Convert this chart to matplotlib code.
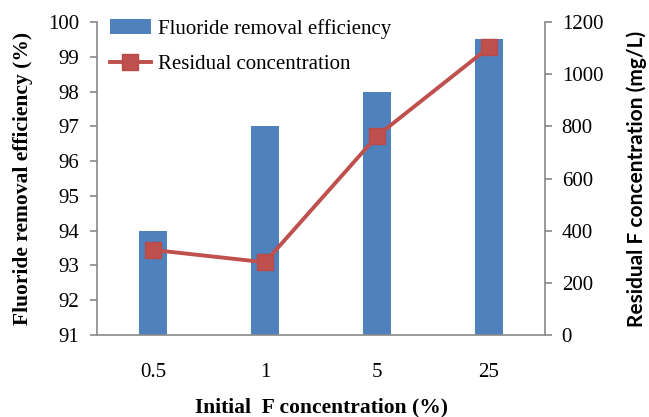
import matplotlib
matplotlib.use("Agg")
import matplotlib.pyplot as plt

categories = ["0.5", "1", "5", "25"]
efficiency = [94, 97, 98, 99.5]
residual = [326, 279, 763, 1103]

serif = "Liberation Serif"
gray = "#898989"

fig = plt.figure(figsize=(6.49, 4.17), dpi=100)
ax = fig.add_axes([0.1495, 0.1966, 0.6903, 0.7506])
x = list(range(len(categories)))
bars = ax.bar(x, [e - 91 for e in efficiency], bottom=91, width=0.25, color="#4F81BD",
              label="Fluoride removal efficiency", zorder=2)
ax.set_xlim(-0.5, 3.5)
ax.set_ylim(91, 100)
ax.set_yticks(range(91, 101))
ax.set_xticks(x)
ax.set_xticklabels(categories)
for s in ["top", "right"]:
    ax.spines[s].set_visible(False)
for s in ["left", "bottom"]:
    ax.spines[s].set_color(gray)
    ax.spines[s].set_linewidth(1.2)
ax.tick_params(axis="y", direction="out", length=5, color=gray, width=1.2, labelsize=15, pad=8)
ax.tick_params(axis="x", length=0, labelsize=15, pad=20)
for lab in ax.get_xticklabels() + ax.get_yticklabels():
    lab.set_family(serif)
ax.set_ylabel("Fluoride removal efficiency (%)", family=serif, fontweight="bold", fontsize=15.5, labelpad=11)
ax.set_xlabel("Initial  F concentration (%)", family=serif, fontweight="bold", fontsize=15.5, labelpad=11)

ax2 = ax.twinx()
line, = ax2.plot(x, residual, color="#C0504D", linewidth=2.8, marker="s", markersize=11.5,
                 markerfacecolor="#C0504D", markeredgecolor="#B84A47", label="Residual concentration", zorder=3)
ax2.set_ylim(0, 1200)
ax2.set_yticks(range(0, 1201, 200))
for s in ["top", "left", "bottom"]:
    ax2.spines[s].set_visible(False)
ax2.spines["right"].set_color(gray)
ax2.spines["right"].set_linewidth(1.2)
ax2.tick_params(axis="y", direction="out", length=5, color=gray, width=1.2, labelsize=15, pad=7)
for lab in ax2.get_yticklabels():
    lab.set_family(serif)
ax2.set_ylabel("Residual F concentration (mg/L)", family="Lato", fontweight="bold", fontsize=15, labelpad=17)

leg = ax2.legend([bars, line], ["Fluoride removal efficiency", "Residual concentration"],
                 loc="upper left", bbox_to_anchor=(0.0, 1.05), frameon=False,
                 prop={"family": serif, "size": 15}, handlelength=2.0, handletextpad=0.35,
                 labelspacing=0.75, borderaxespad=0.2)

fig.savefig("out.png", dpi=100)
